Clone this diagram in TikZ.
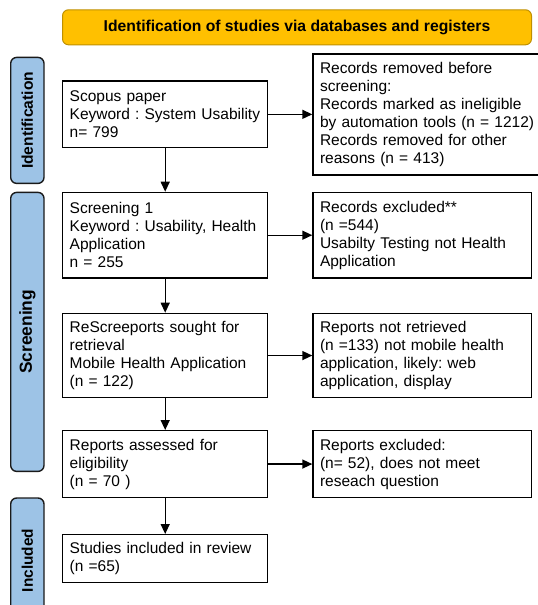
\documentclass[tikz,border=0pt]{standalone}
\usepackage{fontspec}
\setmainfont{Liberation Sans}
\usetikzlibrary{arrows.meta}
\definecolor{hdrfill}{HTML}{FFC000}
\definecolor{hdrdraw}{HTML}{BF9000}
\definecolor{sidefill}{HTML}{9DC3E6}
\definecolor{sidedraw}{HTML}{1A1A1A}
\frenchspacing
\tikzset{
  flowbox/.style={draw=black, line width=1.4pt, fill=white, anchor=north west,
    align=left, inner xsep=7pt, inner ysep=0pt,
    font=\fontsize{15.5}{18}\selectfont,
    execute at begin node={\frenchspacing\hyphenpenalty=10000 }},
  leftbox/.style={flowbox, text width=191pt},
  rightbox/.style={flowbox, text width=204.7pt},
  sidelabel/.style={draw=sidedraw, line width=1.4pt, fill=sidefill, rounded corners=6pt,
    rotate=90, anchor=north east, inner sep=0pt, minimum height=33.3pt},
  flowarrow/.style={line width=1.4pt, -{Triangle[length=10pt,width=9pt]}},
}
\begin{document}
\begin{tikzpicture}[x=1pt,y=-1pt]
\useasboundingbox (0,0) rectangle (538,605);
% header
\node[draw=hdrdraw, line width=1pt, fill=hdrfill, rounded corners=6pt, anchor=north west,
  minimum width=469pt, minimum height=35pt, inner sep=0pt,
  font=\bfseries\fontsize{15.7}{17}\selectfont] (hdr) at (62,9.3) {Identification of studies via databases and registers};
% side labels (rotated; anchor north east = top-left on page)
\node[sidelabel, minimum width=126pt, font=\bfseries\fontsize{15.6}{17}\selectfont] (sid) at (10,56.7) {Identification};
\node[sidelabel, minimum width=279pt, font=\bfseries\fontsize{17.4}{19}\selectfont] (sscr) at (10,191.7) {Screening};
\node[sidelabel, minimum width=125pt, font=\bfseries\fontsize{15.4}{17}\selectfont] (sinc) at (10,497.3) {Included};
% left column
\node[leftbox, minimum height=66.7pt] (b1) at (62,80.3)
  {Scopus paper\\Keyword : System Usability\\n= 799};
\node[leftbox, minimum height=85.6pt] (b2) at (62,191.7)
  {Screening 1\\Keyword : Usability, Health\\Application\\n = 255};
\node[leftbox, minimum height=84.3pt] (b3) at (62,312.7)
  {ReScreeports sought for\\retrieval\\Mobile Health Application\\(n = 122)};
\node[leftbox, minimum height=66.7pt] (b4) at (62,430)
  {Reports assessed for\\eligibility\\(n = 70 )};
\node[leftbox, minimum height=47.7pt] (b5) at (62,534)
  {Studies included in review\\(n =65)};
% right column
\node[flowbox, text width=219pt, minimum height=121pt] (r1) at (312.3,53.3)
  {Records removed before\\screening:\\Records marked as ineligible\\by automation tools (n = 1212)\\Records removed for other\\reasons (n = 413)};
\node[rightbox, minimum height=85.6pt] (r2) at (312.3,191.7)
  {Records excluded**\\(n =544)\\Usabilty Testing not Health\\Application};
\node[rightbox, minimum height=84.3pt] (r3) at (312.3,312.7)
  {Reports not retrieved\\(n =133) not mobile health\\application, likely: web\\application, display};
\node[rightbox, minimum height=66.7pt] (r4) at (312.3,430)
  {Reports excluded:\\(n= 52), does not meet\\reseach question};
% arrows
\draw[flowarrow] (b1.south) -- (b2.north);
\draw[flowarrow] (b2.south) -- (b3.north);
\draw[flowarrow] (b3.south) -- (b4.north);
\draw[flowarrow] (b4.south) -- (b5.north);
\draw[flowarrow] (b1.east) -- (b1.east -| r1.west);
\draw[flowarrow] (b2.east) -- (b2.east -| r2.west);
\draw[flowarrow] (b3.east) -- (b3.east -| r3.west);
\draw[flowarrow] (b4.east) -- (b4.east -| r4.west);
\end{tikzpicture}
\end{document}
